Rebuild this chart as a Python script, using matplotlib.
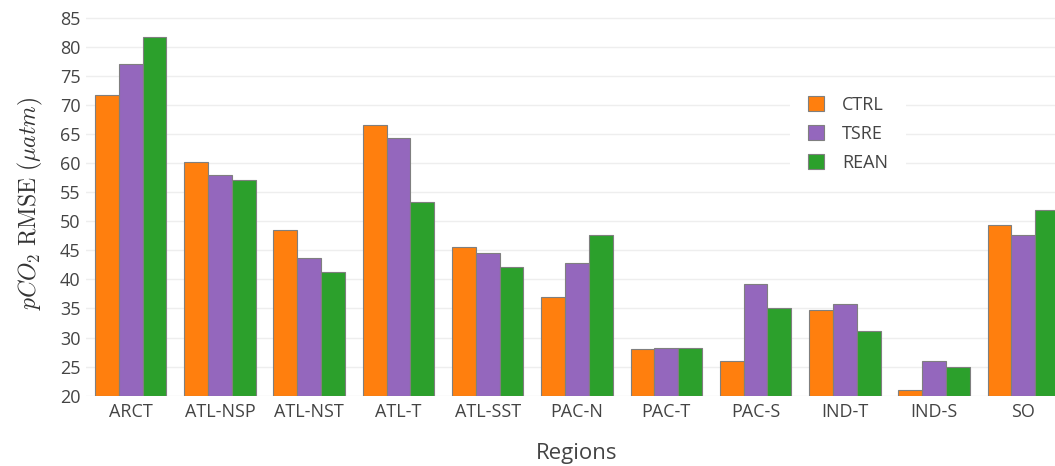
import numpy as np
import matplotlib.pyplot as plt
from matplotlib.patches import Patch

plt.rcParams['font.family'] = ['Open Sans', 'DejaVu Sans']
plt.rcParams['mathtext.fontset'] = 'cm'

regions = ['ARCT', 'ATL-NSP', 'ATL-NST', 'ATL-T', 'ATL-SST', 'PAC-N',
           'PAC-T', 'PAC-S', 'IND-T', 'IND-S', 'SO']
ctrl = [71.7, 60.2, 48.5, 66.5, 45.6, 36.9, 28.1, 26.0, 34.8, 21.0, 49.4]
tsre = [77.1, 58.0, 43.7, 64.3, 44.5, 42.9, 28.2, 39.2, 35.7, 25.9, 47.6]
rean = [81.7, 57.1, 41.2, 53.3, 42.1, 47.6, 28.2, 35.0, 31.2, 25.0, 51.9]
series = ['CTRL', 'TSRE', 'REAN']
colors = ['#ff7f0e', '#9467bd', '#2ca02c']

fig = plt.figure(figsize=(10.55, 4.66), dpi=100)
ax = fig.add_axes([86 / 1055, 0.1509, 982 / 1055, 0.8236])

x = np.arange(len(regions))
w = 0.8 / 3
for i, (vals, c) in enumerate(zip([ctrl, tsre, rean], colors)):
    ax.bar(x + (i - 1) * w, np.array(vals) - 20, bottom=20, width=w,
           color=c, edgecolor='#7f7f7f', linewidth=0.8, zorder=3)

ax.set_xlim(-0.5, 10.5)
ax.set_ylim(20, 86)
ax.set_yticks(range(20, 90, 5))
ax.set_xticks(x)
ax.set_xticklabels(regions)
ax.tick_params(length=0, labelsize=13, colors='#444444', pad=5)
ax.tick_params(axis='y', pad=4)
ax.grid(axis='y', color='#eeeeee', linewidth=1, zorder=0)
for s in ax.spines.values():
    s.set_visible(False)

ax.set_xlabel('Regions', fontsize=16, color='#444444', labelpad=16)
fig.text(30 / 1055, 0.564, r'$pCO_2\ \mathrm{RMSE}\ (\mu atm)$', rotation=90,
         ha='center', va='center', fontsize=17, color='#333333')

handles = [Patch(facecolor=c, edgecolor='#7f7f7f', linewidth=0.8) for c in colors]
leg = ax.legend(handles, series, loc='center left',
                bbox_to_anchor=(790 / 1055, 1 - 134 / 466),
                bbox_transform=fig.transFigure, fontsize=13,
                handlelength=0.9, handleheight=0.9, handletextpad=1.0,
                labelspacing=0.62, borderpad=1.0, borderaxespad=0,
                frameon=True, fancybox=False, facecolor='white',
                edgecolor='none', framealpha=1)
for t in leg.get_texts():
    t.set_color('#444444')

fig.savefig('out.png', dpi=100)
